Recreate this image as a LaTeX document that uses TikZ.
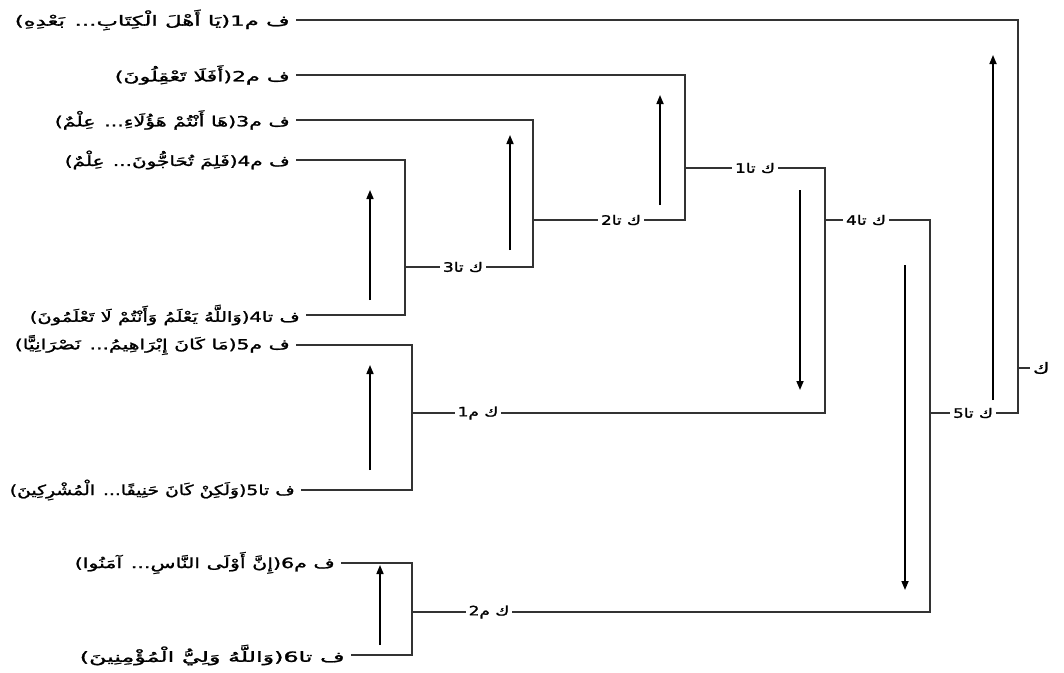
\documentclass[tikz,border=0pt]{standalone}
\usepackage{fontspec}
\usepackage{graphicx}
\usetikzlibrary{arrows.meta}
\TeXXeTstate=1
\newfontfamily\arabicfont[Script=Arabic,FakeStretch=1.3,FakeBold=1.5]{DejaVu Sans}
\newcommand\fitwid[2]{\resizebox{#1pt}{\height}{#2}}
\begin{document}
\begin{tikzpicture}[x=1pt,y=-1pt,
  leaf/.style={anchor=east, inner xsep=6pt, inner ysep=1pt, font=\arabicfont\fontsize{14}{16}\selectfont},
  lab/.style={inner xsep=3pt, inner ysep=1pt, font=\arabicfont\fontsize{13}{15}\selectfont},
  br/.style={line width=1.1pt, draw=black!80},
  arr/.style={line width=1.6pt, -{Triangle[length=9pt,width=7pt]}}]
\useasboundingbox (0,0) rectangle (1064,672);
% leaf texts
\node[leaf] (t1) at (296,20) {\fitwid{275}{\beginR ف م1(يَا أَهْلَ الْكِتَابِ... بَعْدِهِ)\endR}};
\node[leaf] (t2) at (296,75) {\fitwid{175}{\beginR ف م2(أَفَلَا تَعْقِلُونَ)\endR}};
\node[leaf] (t3) at (296,120) {\fitwid{235}{\beginR ف م3(هَا أَنْتُمْ هَؤُلَاءِ... عِلْمٌ)\endR}};
\node[leaf] (t4) at (296,160) {\fitwid{225}{\beginR ف م4(فَلِمَ تُحَاجُّونَ... عِلْمٌ)\endR}};
\node[leaf] (t5) at (306,315) {\fitwid{270}{\beginR ف تا4(وَاللَّهُ يَعْلَمُ وَأَنْتُمْ لَا تَعْلَمُونَ)\endR}};
\node[leaf] (t6) at (296,345) {\fitwid{275}{\beginR ف م5(مَا كَانَ إِبْرَاهِيمُ... نَصْرَانِيًّا)\endR}};
\node[leaf] (t7) at (301,490) {\fitwid{285}{\beginR ف تا5(وَلَكِنْ كَانَ حَنِيفًا... الْمُشْرِكِينَ)\endR}};
\node[leaf] (t8) at (341,563) {\fitwid{260}{\beginR ف م6(إِنَّ أَوْلَى النَّاسِ... آمَنُوا)\endR}};
\node[leaf] (t9) at (351,655) {\fitwid{265}{\beginR ف تا6(وَاللَّهُ وَلِيُّ الْمُؤْمِنِينَ)\endR}};
% group labels
\node[lab] (k3) at (463,267) {\beginR ك تا3\endR};
\node[lab] (k2) at (621,220) {\beginR ك تا2\endR};
\node[lab] (k1) at (755,168) {\beginR ك تا1\endR};
\node[lab] (k4) at (866,220) {\beginR ك تا4\endR};
\node[lab] (m1) at (478,413) {\beginR ك م1\endR};
\node[lab] (m2) at (489,612) {\beginR ك م2\endR};
\node[lab] (k5) at (973,413) {\beginR ك تا5\endR};
\node[lab, anchor=west, font=\arabicfont\fontsize{15}{17}\selectfont] (kk) at (1030,368) {\beginR ك\endR};
% brackets
\draw[br] (t4.east) -- (405,160) -- (405,315) -- (t5.east);
\draw[br] (405,267) -- (k3.west);
\draw[br] (t3.east) -- (533,120) -- (533,267) -- (k3.east);
\draw[br] (533,220) -- (k2.west);
\draw[br] (t2.east) -- (685,75) -- (685,220) -- (k2.east);
\draw[br] (685,168) -- (k1.west);
\draw[br] (t6.east) -- (412,345) -- (412,490) -- (t7.east);
\draw[br] (412,413) -- (m1.west);
\draw[br] (k1.east) -- (825,168) -- (825,413) -- (m1.east);
\draw[br] (825,220) -- (k4.west);
\draw[br] (t8.east) -- (412,563) -- (412,655) -- (t9.east);
\draw[br] (412,612) -- (m2.west);
\draw[br] (k4.east) -- (930,220) -- (930,612) -- (m2.east);
\draw[br] (930,413) -- (k5.west);
\draw[br] (t1.east) -- (1018,20) -- (1018,413) -- (k5.east);
\draw[br] (1018,368) -- (kk.west);
% arrows
\coordinate (a1s) at (370,300); \coordinate (a1e) at (370,190);
\coordinate (a2s) at (510,250); \coordinate (a2e) at (510,135);
\coordinate (a3s) at (660,205); \coordinate (a3e) at (660,95);
\coordinate (a4s) at (800,190); \coordinate (a4e) at (800,390);
\coordinate (a5s) at (370,470); \coordinate (a5e) at (370,365);
\coordinate (a6s) at (380,645); \coordinate (a6e) at (380,565);
\coordinate (a7s) at (905,265); \coordinate (a7e) at (905,590);
\coordinate (a8s) at (993,400); \coordinate (a8e) at (993,55);
\foreach \i in {1,...,8} \draw[arr] (a\i s) -- (a\i e);
\end{tikzpicture}
\end{document}
